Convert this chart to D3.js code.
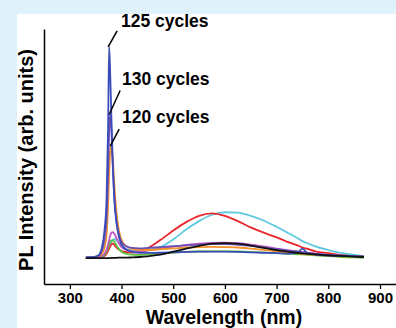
<!DOCTYPE html>
<html>
<head>
<meta charset="utf-8">
<script src="https://cdn.jsdelivr.net/npm/d3@7"></script>
<style>
  html, body { margin: 0; padding: 0; background: #dff1fa; }
  svg { display: block; }
  text { font-family: "Liberation Sans", Arial, Helvetica, sans-serif; font-weight: bold; fill: #000; }
</style>
</head>
<body>
<svg id="chart" width="396" height="328"></svg>
<script>
// Wavelength grid (nm) shared by all spectra
const wavelengths = [331, 345, 355, 362, 367, 371, 374, 376, 378, 380, 383, 386, 390, 395, 400, 410, 420, 435, 450, 475, 500, 525, 550, 575, 600, 625, 650, 675, 700, 725, 740, 750, 760, 775, 800, 825, 850, 869];

// PL intensities (arb. units)
const cyanSeries   = [0, 0, 0.3, 0.8, 1.5, 2.5, 4, 5, 6.5, 7.5, 8.5, 9, 8.5, 7, 5.5, 4, 3.5, 3.3, 3.8, 5.2, 8.8, 13.5, 17.5, 20.5, 21.7, 21.5, 20, 17.8, 14.8, 11.5, 9.5, 8, 7, 5.5, 3.8, 2.4, 1.5, 0.9];
const redSeries    = [0, 0, 0.2, 0.5, 1, 2, 3.5, 4.5, 5.5, 6.3, 6.8, 6.3, 5, 4, 3.3, 2.8, 2.6, 2.8, 4.5, 8.5, 13, 17, 20, 21.2, 20, 17.5, 14.5, 12, 9.8, 7.3, 6, 5, 4.3, 3.2, 2.3, 1.4, 0.9, 0.5];
const greenSeries  = [0, 0, 0.2, 0.6, 1.5, 3, 5, 6.5, 7.6, 8.3, 8.5, 7.8, 6, 4.2, 3, 2, 1.6, 1.5, 1.7, 2.2, 2.6, 2.9, 3.1, 3.2, 3.2, 3.1, 2.9, 2.6, 2.3, 2, 1.8, 1.7, 1.5, 1.3, 0.9, 0.5, 0.3, 0.1];
const pinkSeries   = [0, 0, 0.3, 1, 2, 4, 6.5, 8.5, 10.5, 11.8, 12.3, 11.5, 9.5, 7, 5.2, 3.8, 3.2, 3, 3.5, 4.5, 5.4, 6.2, 6.8, 7.2, 7.3, 7, 6.4, 5.5, 4.5, 3.6, 3.1, 2.8, 2.5, 2.1, 1.5, 1.1, 0.8, 0.6];
const cycles120    = [0.2, 0.3, 0.6, 2, 5, 11, 25, 40, 50, 53, 47, 35, 22, 13, 8.5, 5.5, 4.3, 3.8, 3.8, 4.2, 4.6, 5, 5.2, 5.3, 5.2, 5, 4.5, 3.9, 3.2, 2.6, 2.3, 2, 1.8, 1.5, 1.2, 1, 0.8, 0.7];
const cycles130    = [0.3, 0.4, 1, 3.5, 9, 19, 40, 60, 68, 62, 44, 29, 18, 11, 7.5, 5.5, 4.8, 4.6, 4.8, 5.2, 5.6, 6, 6.4, 6.6, 6.6, 6.3, 5.8, 5, 4.2, 3.4, 3, 2.7, 2.4, 2, 1.5, 1.2, 0.9, 0.7];
const cycles125    = [0.3, 0.4, 1.2, 5, 13, 28, 62, 100, 88, 70, 45, 28, 17, 10, 6.5, 4, 3, 2.5, 2.4, 2.5, 2.7, 2.9, 3, 3, 3, 2.9, 2.7, 2.5, 2.3, 2.1, 2.4, 4.5, 2.2, 1.6, 1.2, 1, 0.8, 0.7];
const blackSeries  = [0, 0, 0, 0, 0, 0, 0, 0, 0, 0.1, 0.1, 0.1, 0.1, 0.2, 0.2, 0.2, 0.3, 0.5, 0.8, 1.6, 3, 4.5, 5.8, 6.8, 7.1, 6.8, 5.9, 4.8, 3.7, 2.9, 2.5, 2.2, 2, 1.7, 1.3, 1, 0.7, 0.5];

const seriesNames  = ["cyan", "red", "green", "pink", "120 cycles", "130 cycles", "125 cycles", "black"];
const seriesValues = [cyanSeries, redSeries, greenSeries, pinkSeries, cycles120, cycles130, cycles125, blackSeries];
const seriesColors = ["#5ec9df", "#e8262b", "#5cbf3f", "#c157c4", "#f2902a", "#6b50b6", "#3b4cb9", "#111111"];

const xTicks = [300, 400, 500, 600, 700, 800, 900];

const svg = d3.select("#chart");

// white panel
svg.append("rect").attr("x", 17).attr("y", 14).attr("width", 396 - 17).attr("height", 328 - 14).attr("fill", "#fff");

const x = d3.scaleLinear().domain([250, 930]).range([44, 395.5]);
const y = d3.scaleLinear().domain([-12.3, 108.5]).range([284, 29]);

const line = d3.line()
  .x(d => x(d[0]))
  .y(d => y(d[1]))
  .curve(d3.curveMonotoneX);

seriesValues.forEach((vals, i) => {
  svg.append("path")
    .datum(wavelengths.map((w, j) => [w, vals[j]]))
    .attr("fill", "none")
    .attr("stroke", seriesColors[i])
    .attr("stroke-width", 1.8)
    .attr("stroke-linejoin", "round")
    .attr("d", line);
});

// axes
const xAxis = d3.axisBottom(x).tickValues(xTicks).tickSize(5).tickSizeOuter(0).tickPadding(3);
const gx = svg.append("g").attr("transform", `translate(0,${y.range()[0]})`).call(xAxis);
gx.select(".domain").attr("stroke", "#000").attr("stroke-width", 1.5);
gx.selectAll(".tick line").attr("stroke", "#000").attr("stroke-width", 1.3);
gx.selectAll(".tick text").style("font-size", "15px").style("font-weight", "bold").style("font-family", '"Liberation Sans", Arial, sans-serif').attr("fill", "#000");

const yAxis = d3.axisLeft(y).tickValues([]).tickSizeOuter(0);
const gy = svg.append("g").attr("transform", `translate(${x.range()[0]},0)`).call(yAxis);
gy.select(".domain").attr("stroke", "#000").attr("stroke-width", 1.5);

// axis titles
svg.append("text").attr("x", 224).attr("y", 323.5).attr("text-anchor", "middle")
  .style("font-size", "19.5px").text("Wavelength (nm)");
svg.append("text").attr("transform", "translate(33,160) rotate(-90)").attr("text-anchor", "middle")
  .style("font-size", "20px").text("PL Intensity (arb. units)");

// annotations for peaks
const annot = [
  { name: "125 cycles", dx: 9, dy: -16, tx: 121, ty: 27 },
  { name: "130 cycles", dx: 11, dy: -24, tx: 122, ty: 85 },
  { name: "120 cycles", dx: 9, dy: -17, tx: 122, ty: 123 }
];
annot.forEach(a => {
  const vals = seriesValues[seriesNames.indexOf(a.name)];
  const mi = d3.maxIndex(vals);
  const px = x(wavelengths[mi]) - 1, py = y(vals[mi]);
  svg.append("line").attr("x1", px).attr("y1", py).attr("x2", px + a.dx).attr("y2", py + a.dy)
    .attr("stroke", "#000").attr("stroke-width", 1.5);
  svg.append("text").attr("x", a.tx).attr("y", a.ty).style("font-size", "17.5px").text(a.name);
});
</script>
</body>
</html>
